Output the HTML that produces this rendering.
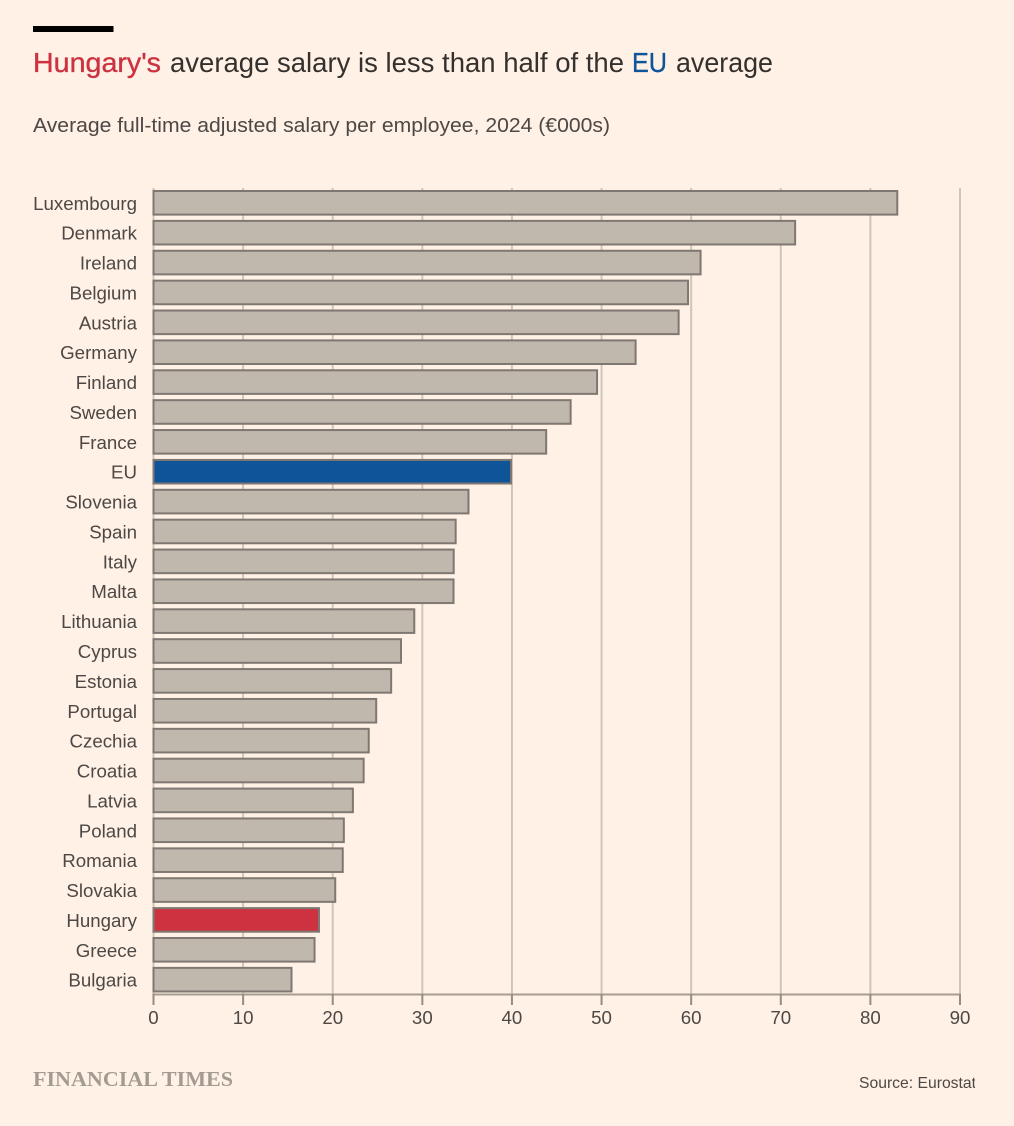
<!DOCTYPE html>
<html lang="en">
<head>
<meta charset="utf-8">
<title>Hungary's average salary is less than half of the EU average</title>
<style>
html,body{margin:0;padding:0;background:#fff1e5;}
svg{display:block;font-family:"Liberation Sans",sans-serif;}
</style>
</head>
<body>
<svg id="chart" xmlns="http://www.w3.org/2000/svg" width="1014" height="1126" viewBox="0 0 1014 1126">
  <defs><clipPath id="source-clip"><rect x="850" y="1060" width="125" height="40"/></clipPath></defs>
  <rect x="0" y="0" width="1014" height="1126" fill="#fff1e5"/>
  <rect x="33" y="26" width="80.5" height="6" fill="#000"/>
  <g font-size="27.5" fill="#33302e">
    <text x="33" y="72" fill="#cc3240" stroke="#cc3240" stroke-width="0.35" textLength="128" lengthAdjust="spacingAndGlyphs">Hungary's</text>
    <text x="170" y="72" textLength="454" lengthAdjust="spacingAndGlyphs">average salary is less than half of the</text>
    <text x="632" y="72" fill="#0f5499" stroke="#0f5499" stroke-width="0.35" textLength="35" lengthAdjust="spacingAndGlyphs">EU</text>
    <text x="676" y="72" textLength="97" lengthAdjust="spacingAndGlyphs">average</text>
  </g>
  <text x="33" y="132" font-size="20" fill="#4d4845" textLength="577" lengthAdjust="spacingAndGlyphs">Average full-time adjusted salary per employee, 2024 (€000s)</text>
  <g id="grid"></g>
  <g id="bars"></g>
  <g id="labels"></g>
  <g id="axis"></g>
  <text x="33" y="1086" font-family="'Liberation Serif',serif" font-weight="700" font-size="21" fill="#a39b92" textLength="200" lengthAdjust="spacingAndGlyphs">FINANCIAL TIMES</text>
  <text x="859" y="1088" font-size="16" fill="#4d4845" textLength="117" lengthAdjust="spacingAndGlyphs" clip-path="url(#source-clip)">Source: Eurostat</text>
</svg>
<script>
const categories = ["Luxembourg","Denmark","Ireland","Belgium","Austria","Germany","Finland","Sweden","France","EU","Slovenia","Spain","Italy","Malta","Lithuania","Cyprus","Estonia","Portugal","Czechia","Croatia","Latvia","Poland","Romania","Slovakia","Hungary","Greece","Bulgaria"];
const salaries = [83,71.6,61.05,59.65,58.6,53.8,49.5,46.55,43.82,39.9,35.15,33.72,33.5,33.48,29.1,27.62,26.52,24.85,24.02,23.45,22.25,21.24,21.12,20.28,18.47,17.97,15.4];
const xTicks = [0,10,20,30,40,50,60,70,80,90];
const highlights = {EU:"#0f5499",Hungary:"#cc3240"};

const NS = "http://www.w3.org/2000/svg";
const xScale = v => 153.5 + v * (960 - 153.5) / 90;
const yTop = i => 191 + i * 29.88;
const BAR_H = 23.6;

function make(tag, attrs, parent, text) {
  const el = document.createElementNS(NS, tag);
  for (const k in attrs) el.setAttribute(k, attrs[k]);
  if (text !== undefined) el.textContent = text;
  parent.appendChild(el);
  return el;
}
const gridG = document.getElementById("grid");
const barsG = document.getElementById("bars");
const labelsG = document.getElementById("labels");
const axisG = document.getElementById("axis");

xTicks.forEach(t => {
  const x = xScale(t);
  const line = make("line", {x1:x,x2:x,y1:188,y2:994,stroke:"#cfc5ba","stroke-width":2}, gridG);
  
  
});

categories.forEach((c, i) => {
  const bar = make("rect", {
    x: xScale(0), y: yTop(i),
    width: xScale(salaries[i]) - xScale(0), height: BAR_H,
    fill: highlights[c] || "#c0b7ad", stroke: "#7f7872", "stroke-width": 2
  }, barsG);
  
  
  const label = make("text", {
    x: 137, y: yTop(i) + BAR_H / 2 + 7,
    "text-anchor": "end", "font-size": 18.7, fill: "#4d4845"
  }, labelsG, c);
  
  
});

const axisLine = make("line", {x1:xScale(0)-1,x2:xScale(90)+1,y1:994.5,y2:994.5,stroke:"#a79d93","stroke-width":2}, axisG);



xTicks.forEach(t => {
  const x = xScale(t);
  const tick = make("line", {x1:x,x2:x,y1:994,y2:1005,stroke:"#958c84","stroke-width":2}, axisG);
  
  
  const lab = make("text", {x:x,y:1024,"text-anchor":"middle","font-size":18.7,fill:"#4d4845"}, axisG, String(t));
  
  
});
</script>
</body>
</html>
